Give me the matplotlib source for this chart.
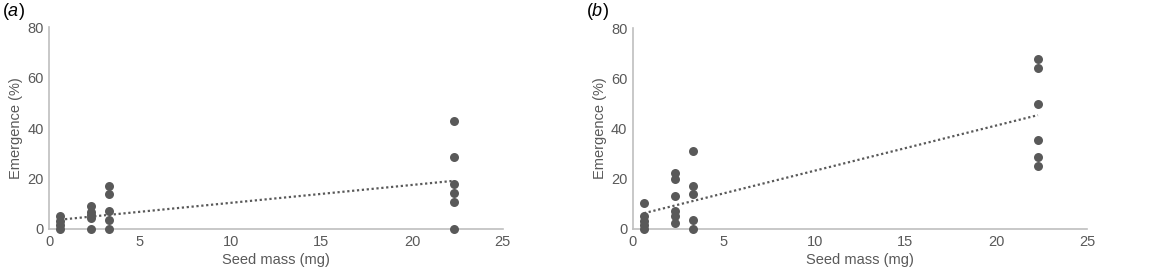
import numpy as np
import matplotlib
matplotlib.use("Agg")
import matplotlib.pyplot as plt

plt.rcParams['font.family'] = ['Liberation Sans', 'DejaVu Sans']
plt.rcParams['mathtext.fontset'] = 'custom'
plt.rcParams['mathtext.it'] = 'Liberation Sans:italic'
plt.rcParams['mathtext.rm'] = 'Liberation Sans'

# Panel (a) data
a_x = [0.6]*4 + [2.3]*5 + [3.3]*5 + [22.3]*6
a_y = [0, 1.7, 3.3, 5.3,
       0, 4.3, 5.5, 6.7, 9.0,
       0, 3.4, 7.0, 13.9, 17.2,
       0, 10.7, 14.3, 17.8, 28.5, 42.8]
# Panel (b) data
b_x = [0.6]*5 + [2.3]*6 + [3.3]*5 + [22.3]*6
b_y = [0, 1.5, 3.0, 5.3, 10.2,
       2.4, 5.0, 7.0, 13.3, 20.0, 22.4,
       0, 3.7, 13.9, 17.3, 31.2,
       25.1, 28.5, 35.6, 49.9, 64.2, 67.7]
# Trend lines (intercept, slope)
a_trend = (3.27, 0.71)
b_trend = (5.2, 1.80)

panels = [("a", a_x, a_y, a_trend, [0.0426, 0.1763, 0.3919, 0.7255]),
          ("b", b_x, b_y, b_trend, [0.5471, 0.1763, 0.3924, 0.7227])]

grey = '#595959'
spine = '#bfbfbf'

fig = plt.figure(figsize=(11.57, 2.78), dpi=100)
for letter, xs, ys, (b0, b1), rect in panels:
    ax = fig.add_axes(rect)
    ax.scatter(xs, ys, s=42, color=grey, zorder=3, linewidths=0, clip_on=False)
    tx = np.array([min(xs), max(xs)])
    ax.plot(tx, b0 + b1 * tx, linestyle=(0, (1, 1.2)), color=grey, lw=1.6, zorder=2)
    ax.set_xlim(0, 25)
    ax.set_ylim(0, 80)
    ax.set_xticks([0, 5, 10, 15, 20, 25])
    ax.set_yticks([0, 20, 40, 60, 80])
    for s in ['top', 'right']:
        ax.spines[s].set_visible(False)
    for s in ['left', 'bottom']:
        ax.spines[s].set_color(spine)
        ax.spines[s].set_linewidth(1.2)
    ax.tick_params(length=0, labelsize=10.5, labelcolor=grey, pad=4)
    ax.set_xlabel('Seed mass (mg)', fontsize=10.5, color=grey, labelpad=3)
    ax.set_ylabel('Emergence (%)', fontsize=10.5, color=grey, labelpad=3)
    fig.text(rect[0] - 0.041, 0.995, r'($\mathit{' + letter + r'}$)', fontsize=13,
             color='black', ha='left', va='top')

fig.savefig('out.png', dpi=100)
